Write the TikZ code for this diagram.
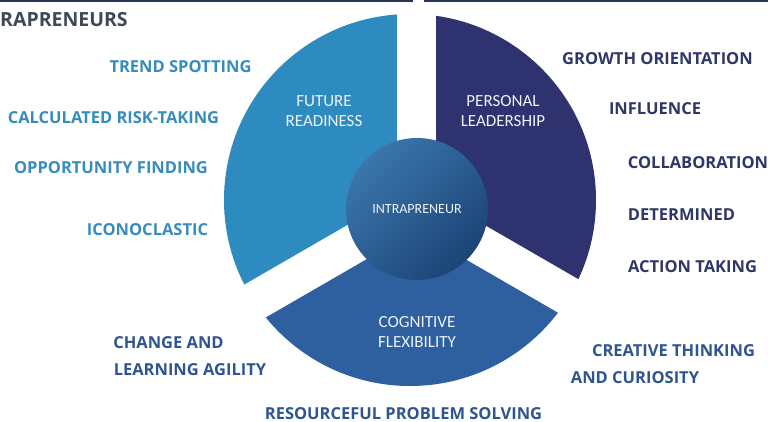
\documentclass[tikz,border=0pt]{standalone}
\usepackage{fontspec}
\setmainfont{Open Sans}
\newfontfamily\segfont{Carlito}
\definecolor{futc}{RGB}{46,139,192}
\definecolor{perc}{RGB}{46,50,110}
\definecolor{cogc}{RGB}{46,95,158}
\definecolor{corelight}{RGB}{58,118,172}
\definecolor{coredark}{RGB}{28,68,118}
\definecolor{lefttxt}{RGB}{55,140,190}
\definecolor{righttxt}{RGB}{47,55,105}
\definecolor{bottxt}{RGB}{47,85,145}
\definecolor{titletxt}{RGB}{64,72,88}
\definecolor{topline}{RGB}{40,52,85}
\definecolor{segtxt}{RGB}{236,242,250}
\tikzset{
  lbl/.style={inner sep=0pt, anchor=base, font=\fontsize{16.5}{20}\selectfont\bfseries},
  lleft/.style={lbl, text=lefttxt},
  lright/.style={lbl, text=righttxt},
  lbot/.style={lbl, text=bottxt},
  seglbl/.style={inner sep=0pt, align=center, text=segtxt, font=\segfont\fontsize{17}{20}\selectfont},
  gapstrip/.style={white, line width=39pt}
}
\begin{document}
\begin{tikzpicture}[x=1pt,y=1pt]
\useasboundingbox (0,0) rectangle (768,-422);
\fill[white] (0,0) rectangle (768,-422);
% title
\node[inner sep=0pt, anchor=base west, text=titletxt, font=\fontsize{19.5}{22}\selectfont\bfseries] (title) at (0,-27) {RAPRENEURS};
% segments
\coordinate (ringc) at (410,-200);
\coordinate (hub) at (416,-208);
\begin{scope}
  \clip (hub) -- (416,300) -- (-300,300) -- (-300,-558) -- (-190,-558) -- cycle;
  \fill[futc] (ringc) circle (186);
\end{scope}
\begin{scope}
  \clip (hub) -- (416,300) -- (1100,300) -- (1100,-603) -- cycle;
  \fill[perc] (ringc) circle (186);
\end{scope}
\begin{scope}
  \clip (hub) -- (-190,-558) -- (-190,-900) -- (1022,-900) -- (1022,-558) -- cycle;
  \fill[cogc] (ringc) circle (186);
\end{scope}
% gaps
\draw[gapstrip] (hub) -- ++(0,260);
\draw[gapstrip] (hub) -- ++(-225,-130);
\draw[gapstrip] (hub) -- ++(225,-130);
% top border
\draw[topline, line width=1.6pt] (0,-0.8) -- (413,-0.8);
\draw[topline, line width=1.6pt] (424,-0.8) -- (768,-0.8);
% core
\node[circle, minimum size=142pt, inner sep=0pt, top color=corelight, bottom color=coredark, shading angle=45, text=segtxt, font=\segfont\fontsize{14}{16}\selectfont] (core) at (417,-209) {INTRAPRENEUR};
% segment labels
\node[seglbl] (fut) at (324,-111) {FUTURE\\READINESS};
\node[seglbl] (per) at (503,-111) {PERSONAL\\LEADERSHIP};
\node[seglbl] (cog) at (417,-332) {COGNITIVE\\FLEXIBILITY};
% left labels
\node[lleft] (l1) at (180.5,-73) {TREND SPOTTING};
\node[lleft] (l2) at (113.5,-124) {CALCULATED RISK-TAKING};
\node[lleft] (l3) at (111,-174) {OPPORTUNITY FINDING};
\node[lleft] (l4) at (147.5,-236) {ICONOCLASTIC};
% right labels
\node[lright] (r1) at (657.5,-65) {GROWTH ORIENTATION};
\node[lright] (r2) at (655,-115) {INFLUENCE};
\node[lright] (r3) at (698,-169) {COLLABORATION};
\node[lright] (r4) at (681.5,-220) {DETERMINED};
\node[lright] (r5) at (692.5,-272) {ACTION TAKING};
% bottom labels
\node[lbot] (b1) at (168.5,-348) {CHANGE AND};
\node[lbot] (b2) at (190,-375) {LEARNING AGILITY};
\node[lbot] (b3) at (673.5,-356) {CREATIVE THINKING};
\node[lbot] (b4) at (635,-383) {AND CURIOSITY};
\node[lbot] (b5) at (403.5,-419) {RESOURCEFUL PROBLEM SOLVING};
\end{tikzpicture}
\end{document}
